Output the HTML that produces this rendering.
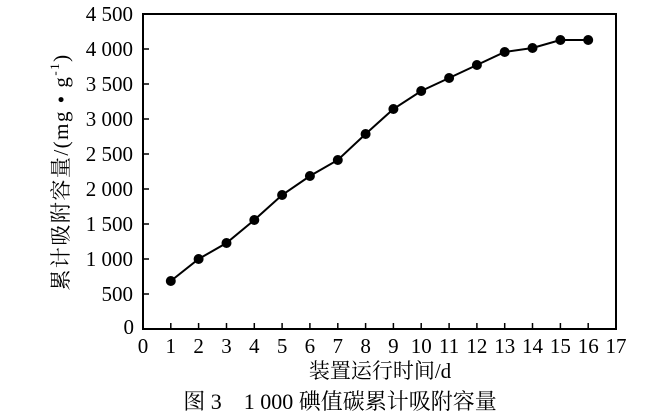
<!DOCTYPE html>
<html><head><meta charset="utf-8"><style>
html,body{margin:0;padding:0;background:#fff;}
</style></head><body>
<svg width="672" height="419" xmlns="http://www.w3.org/2000/svg" style="display:block">
<g font-family="Liberation Serif, 'Noto Serif CJK SC', serif" font-size="21" fill="#000">
<rect x="143" y="14" width="473" height="315" fill="none" stroke="#000" stroke-width="2"/>
<g stroke="#000" stroke-width="1.5">
<line x1="170.8" y1="329" x2="170.8" y2="323"/><line x1="198.6" y1="329" x2="198.6" y2="323"/>
<line x1="226.5" y1="329" x2="226.5" y2="323"/><line x1="254.3" y1="329" x2="254.3" y2="323"/>
<line x1="282.1" y1="329" x2="282.1" y2="323"/><line x1="309.9" y1="329" x2="309.9" y2="323"/>
<line x1="337.8" y1="329" x2="337.8" y2="323"/><line x1="365.6" y1="329" x2="365.6" y2="323"/>
<line x1="393.4" y1="329" x2="393.4" y2="323"/><line x1="421.2" y1="329" x2="421.2" y2="323"/>
<line x1="449.1" y1="329" x2="449.1" y2="323"/><line x1="476.9" y1="329" x2="476.9" y2="323"/>
<line x1="504.7" y1="329" x2="504.7" y2="323"/><line x1="532.5" y1="329" x2="532.5" y2="323"/>
<line x1="560.4" y1="329" x2="560.4" y2="323"/><line x1="588.2" y1="329" x2="588.2" y2="323"/>
<line x1="143" y1="294" x2="149" y2="294"/><line x1="143" y1="259" x2="149" y2="259"/>
<line x1="143" y1="224" x2="149" y2="224"/><line x1="143" y1="189" x2="149" y2="189"/>
<line x1="143" y1="154" x2="149" y2="154"/><line x1="143" y1="119" x2="149" y2="119"/>
<line x1="143" y1="84" x2="149" y2="84"/><line x1="143" y1="49" x2="149" y2="49"/>
</g>
<g text-anchor="end">
<text x="133" y="21">4 500</text><text x="133" y="56">4 000</text><text x="133" y="91">3 500</text>
<text x="133" y="126">3 000</text><text x="133" y="161">2 500</text><text x="133" y="196">2 000</text>
<text x="133" y="231">1 500</text><text x="133" y="266">1 000</text><text x="133" y="301">500</text>
<text x="134" y="334">0</text>
</g>
<g text-anchor="middle">
<text x="143" y="353">0</text><text x="170.8" y="353">1</text><text x="198.6" y="353">2</text>
<text x="226.5" y="353">3</text><text x="254.3" y="353">4</text><text x="282.1" y="353">5</text>
<text x="309.9" y="353">6</text><text x="337.8" y="353">7</text><text x="365.6" y="353">8</text>
<text x="393.4" y="353">9</text><text x="421.2" y="353">10</text><text x="449.1" y="353">11</text>
<text x="476.9" y="353">12</text><text x="504.7" y="353">13</text><text x="532.5" y="353">14</text>
<text x="560.4" y="353">15</text><text x="588.2" y="353">16</text><text x="616" y="353">17</text>
<text x="380" y="378" font-size="21">装置运行时间/d</text>
<text x="340" y="409" font-size="22">图 3　1 000 碘值碳累计吸附容量</text>
<text transform="translate(68,172) rotate(-90)" font-size="21" letter-spacing="1.5">累计吸附容量/(mg • g<tspan font-size="13" dy="-9">-1</tspan><tspan dy="9">)</tspan></text>
</g>
<polyline fill="none" stroke="#000" stroke-width="2" points="170.8,281 198.6,259 226.5,243 254.3,220 282.1,195 309.9,176 337.8,160 365.6,134 393.4,109 421.2,91 449.1,78 476.9,65 504.7,52 532.5,48 560.4,40 588.2,40"/>
<g fill="#000">
<circle cx="170.8" cy="281" r="5"/><circle cx="198.6" cy="259" r="5"/><circle cx="226.5" cy="243" r="5"/>
<circle cx="254.3" cy="220" r="5"/><circle cx="282.1" cy="195" r="5"/><circle cx="309.9" cy="176" r="5"/>
<circle cx="337.8" cy="160" r="5"/><circle cx="365.6" cy="134" r="5"/><circle cx="393.4" cy="109" r="5"/>
<circle cx="421.2" cy="91" r="5"/><circle cx="449.1" cy="78" r="5"/><circle cx="476.9" cy="65" r="5"/>
<circle cx="504.7" cy="52" r="5"/><circle cx="532.5" cy="48" r="5"/><circle cx="560.4" cy="40" r="5"/>
<circle cx="588.2" cy="40" r="5"/>
</g>
</g>
</svg>
</body></html>
